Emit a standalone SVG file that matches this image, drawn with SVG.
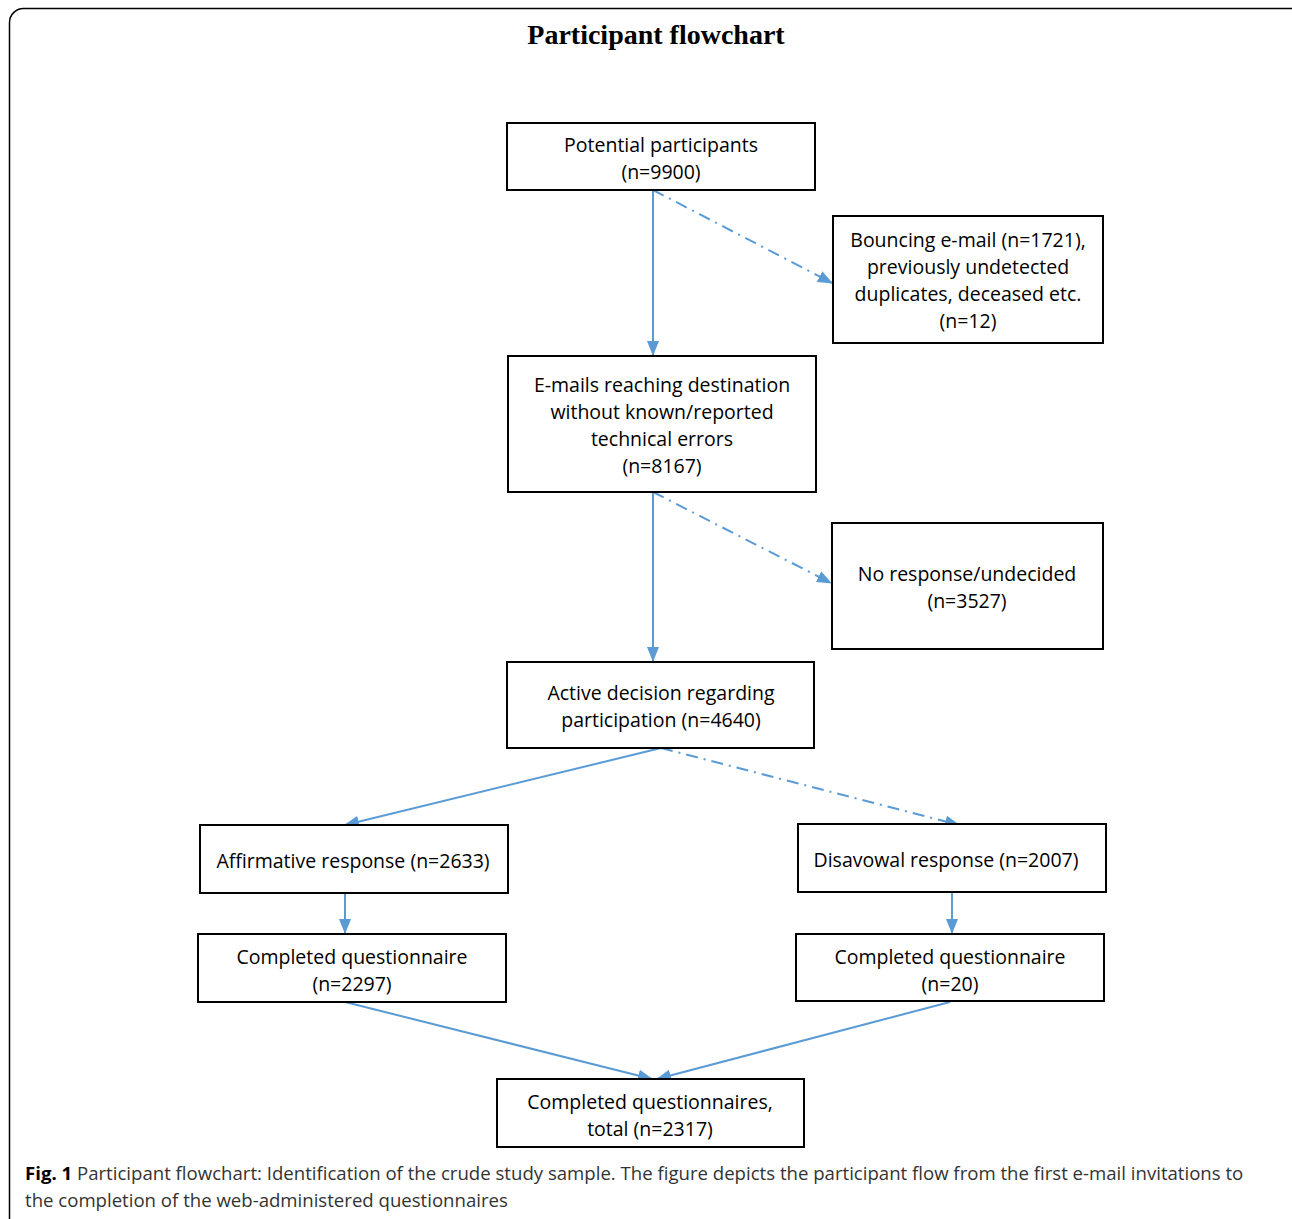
<svg xmlns="http://www.w3.org/2000/svg" width="1292" height="1219" viewBox="0 0 1292 1219">
<defs>
<marker id="ah" markerWidth="15" markerHeight="12" refX="14" refY="6" orient="auto" markerUnits="userSpaceOnUse">
<path d="M0,0 L15,6 L0,12 z" fill="#5B9BD5"/>
</marker>
<style>
.box{fill:#fff;stroke:#000;stroke-width:2}
.t{font-family:"Open Sans","Liberation Sans",sans-serif;font-size:19.5px;fill:#000;text-anchor:middle}
.c{stroke:#5B9BD5;stroke-width:2;fill:none;marker-end:url(#ah)}
.d{stroke-dasharray:12,6,2,6}
.cap{font-family:"Open Sans","Liberation Sans",sans-serif;font-size:18.6px;fill:#333}
</style>
</defs>
<rect x="0" y="0" width="1292" height="1219" fill="#fff"/>
<rect x="9.5" y="8.5" width="1300" height="1225" rx="14" fill="none" stroke="#000" stroke-width="1.5"/>
<text x="656" y="44" font-family="Liberation Serif,serif" font-weight="bold" font-size="28" text-anchor="middle">Participant flowchart</text>
<g id="connectors">
<line class="c" x1="653" y1="190" x2="653" y2="355"/>
<line class="c d" x1="653" y1="190" x2="832" y2="283"/>
<line class="c" x1="653" y1="492" x2="653" y2="661"/>
<line class="c d" x1="653" y1="492" x2="831" y2="583"/>
<line class="c" x1="661" y1="748" x2="345" y2="825"/>
<line class="c d" x1="661" y1="748" x2="959" y2="825"/>
<line class="c" x1="345" y1="893" x2="345" y2="933"/>
<line class="c" x1="952" y1="892" x2="952" y2="933"/>
<line class="c" x1="345" y1="1002" x2="652" y2="1079"/>
<line class="c" x1="950" y1="1002" x2="657" y2="1079"/>
</g>
<g id="n1"><rect class="box" x="507" y="123" width="308" height="67"/><text class="t" x="661" y="152">Potential participants</text><text class="t" x="661" y="179">(n=9900)</text></g>
<g id="n2"><rect class="box" x="833" y="216" width="270" height="127"/><text class="t" x="968" y="247">Bouncing e-mail (n=1721),</text><text class="t" x="968" y="274">previously undetected</text><text class="t" x="968" y="301">duplicates, deceased etc.</text><text class="t" x="968" y="328">(n=12)</text></g>
<g id="n3"><rect class="box" x="508" y="356" width="308" height="136"/><text class="t" x="662" y="392">E-mails reaching destination</text><text class="t" x="662" y="419">without known/reported</text><text class="t" x="662" y="446">technical errors</text><text class="t" x="662" y="473">(n=8167)</text></g>
<g id="n4"><rect class="box" x="832" y="523" width="271" height="126"/><text class="t" x="967" y="581">No response/undecided</text><text class="t" x="967" y="608">(n=3527)</text></g>
<g id="n5"><rect class="box" x="507" y="662" width="307" height="86"/><text class="t" x="661" y="700">Active decision regarding</text><text class="t" x="661" y="727">participation (n=4640)</text></g>
<g id="n6"><rect class="box" x="200" y="825" width="308" height="68"/><text class="t" x="353" y="868">Affirmative response (n=2633)</text></g>
<g id="n7"><rect class="box" x="798" y="824" width="308" height="68"/><text class="t" x="946" y="867">Disavowal response (n=2007)</text></g>
<g id="n8"><rect class="box" x="198" y="934" width="308" height="68"/><text class="t" x="352" y="964">Completed questionnaire</text><text class="t" x="352" y="991">(n=2297)</text></g>
<g id="n9"><rect class="box" x="796" y="934" width="308" height="67"/><text class="t" x="950" y="964">Completed questionnaire</text><text class="t" x="950" y="991">(n=20)</text></g>
<g id="n10"><rect class="box" x="497" y="1079" width="307" height="68"/><text class="t" x="650" y="1109">Completed questionnaires,</text><text class="t" x="650" y="1136">total (n=2317)</text></g>
<text class="cap" x="25" y="1180"><tspan font-weight="bold" fill="#000">Fig. 1</tspan> Participant flowchart: Identification of the crude study sample. The figure depicts the participant flow from the first e-mail invitations to</text>
<text class="cap" x="25" y="1207">the completion of the web-administered questionnaires</text>
</svg>
